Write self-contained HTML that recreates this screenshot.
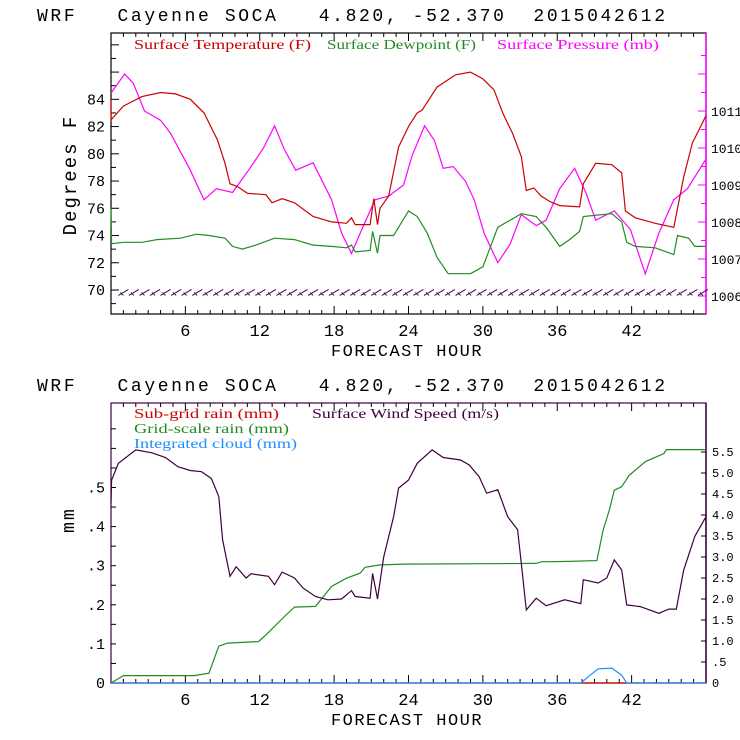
<!DOCTYPE html>
<html><head><meta charset="utf-8"><style>
body{margin:0;background:#fff}
svg{display:block}
text{font-family:"Liberation Mono",monospace}
.lg{font-family:"Liberation Serif",serif;font-size:14px}
</style></head><body>
<svg id="c" width="740" height="740" viewBox="0 0 740 740">
<text x="37" y="21" font-size="18" textLength="628" lengthAdjust="spacing" xml:space="preserve">WRF   Cayenne SOCA   4.820, -52.370  2015042612</text>
<text x="37" y="391" font-size="18" textLength="628" lengthAdjust="spacing" xml:space="preserve">WRF   Cayenne SOCA   4.820, -52.370  2015042612</text>
<g id="top"></g><g id="bot"></g>
</svg>
<script>
// ---- data ----
const tempHours=[0,0.01,1,2.5,4,5.2,6.4,7.5,8.6,9.2,9.6,10.2,11,12.5,13,13.8,14.8,16.3,17.8,19,19.4,19.7,20.9,21.2,21.5,21.7,22.4,23.2,24,24.7,25.1,26.3,27.8,29,30,30.9,31.6,32.4,33.1,33.5,34.1,34.7,35.4,36.2,37.8,38.1,39.1,40.4,41.2,41.5,42.3,43.9,45.4,46.2,46.9,48];
const tempF=[84,82.5,83.5,84.2,84.5,84.4,84,83,81,79.3,77.8,77.6,77.1,77,76.4,76.7,76.4,75.4,75,74.9,75.3,74.8,74.8,76.7,74.8,76,76.9,80.5,82,83,83.2,84.9,85.8,86,85.5,84.7,83,81.5,79.8,77.3,77.5,76.9,76.5,76.2,76.1,77.8,79.3,79.2,78.6,75.8,75.3,74.9,74.6,78.3,80.8,82.8];
const dewHours=[0,0.05,1,2.5,3.7,5.6,6.9,7.9,9.2,9.8,10.6,11.7,13.2,14.8,16.3,17.8,19,19.4,19.7,20.9,21.1,21.5,21.7,22.8,24,24.7,25.5,26.3,27.2,29,30,31.2,33.1,34.3,35.1,36.2,37,37.8,38.1,39.2,40.4,41.2,41.6,42.3,43.9,45.4,45.7,46.6,47.1,48];
const dewF=[76,73.4,73.5,73.5,73.7,73.8,74.1,74,73.8,73.2,73,73.3,73.8,73.7,73.3,73.2,73.1,73.3,72.8,72.9,74.3,72.7,74,74,75.8,75.4,74.2,72.4,71.2,71.2,71.7,74.6,75.6,75.4,74.6,73.2,73.7,74.3,75.4,75.5,75.6,75,73.5,73.2,73.1,72.6,74,73.8,73.2,73.2];
const presHours=[0,1.1,1.8,2.7,4,4.8,6.4,7.5,8.5,9.8,11.1,12.3,13.2,14,14.9,16.3,17.8,18.6,19.4,20.1,21.3,22.4,23.6,24.3,25.3,26.1,26.8,27.6,28.6,29.3,30.1,31.2,32.2,33.1,34.3,35.1,36.2,37.4,38.3,39.1,40.6,41.9,43.1,44.2,45.4,46.5,48];
const presMb=[1011.48,1012,1011.75,1011,1010.75,1010.4,1009.4,1008.6,1008.9,1008.8,1009.4,1010,1010.6,1009.95,1009.4,1009.6,1008.6,1007.7,1007.15,1007.7,1008.6,1008.7,1009,1009.8,1010.6,1010.2,1009.45,1009.5,1009.1,1008.6,1007.7,1006.9,1007.4,1008.2,1007.9,1008.05,1008.9,1009.45,1008.8,1008.05,1008.3,1007.8,1006.6,1007.7,1008.6,1008.9,1009.7];
const windHours=[0,0.05,0.6,2,3.3,4.4,5.4,6.4,7.3,8.1,8.7,9.0,9.6,10.1,10.9,11.3,12.7,13.2,13.8,14.8,15.5,16.5,17.5,18.6,19.4,19.7,20.9,21.1,21.5,22,22.8,23.2,24,24.7,25.9,26.8,28.2,28.9,29.7,30.3,31.2,32,32.8,33.1,33.5,34.3,35.1,36.6,37.9,38.1,39.3,40,40.6,41.2,41.6,42.7,44.2,45,45.6,46.2,47.1,48];
const windMs=[4.28,4.83,5.23,5.55,5.48,5.37,5.15,5.06,5.03,4.87,4.44,3.41,2.54,2.77,2.5,2.6,2.54,2.34,2.64,2.5,2.26,2.06,1.98,2,2.2,2.06,2.02,2.61,2,3,3.96,4.64,4.83,5.23,5.55,5.37,5.31,5.19,4.91,4.52,4.6,3.96,3.65,2.85,1.74,2.02,1.84,1.98,1.89,2.46,2.38,2.5,2.93,2.69,1.86,1.82,1.66,1.76,1.76,2.69,3.49,3.96];
const rainHours=[0,1,6.7,7.9,8.7,9.4,11.9,12.5,14,14.8,16.5,17.8,19,20.1,20.5,21.7,23.6,34.3,34.7,37,39.2,39.7,40.2,40.6,41.2,41.8,43.1,44.6,44.8,48];
const rainMm=[0,0.019,0.019,0.025,0.094,0.102,0.106,0.123,0.17,0.194,0.196,0.247,0.268,0.281,0.296,0.302,0.304,0.306,0.31,0.311,0.313,0.391,0.442,0.493,0.502,0.531,0.566,0.587,0.597,0.597];
const cloudHours=[0,37.9,38.7,39.3,40.4,41.2,41.6,48];
const cloudMm=[0,0,0.021,0.036,0.038,0.02,0,0];
const subHours=[0,48];
const subMm=[0,0];
const barbHours=[];for(let h=1;h<=48;h+=0.85)barbHours.push(h);
const xTicks=[6,12,18,24,30,36,42];
const tempTicks=[70,72,74,76,78,80,82,84];
const presTicks=[1006,1007,1008,1009,1010,1011];
const mmTicks=[0,0.1,0.2,0.3,0.4,0.5];
const mmLabels=["0",".1",".2",".3",".4",".5"];
const wsTicks=[0,0.5,1,1.5,2,2.5,3,3.5,4,4.5,5,5.5];

const NS="http://www.w3.org/2000/svg";
function el(p,t,a){const e=document.createElementNS(NS,t);for(const k in a)e.setAttribute(k,a[k]);p.appendChild(e);return e;}
const L=111,R=706;
const X=h=>L+(R-L)*h/48;
function line(g,xs,ys,fy,col,name){
  const d=xs.map((h,i)=>(i?"L":"M")+X(h).toFixed(1)+","+fy(ys[i]).toFixed(1)).join("");
  const p=el(g,"path",{d:d,fill:"none",stroke:col,"stroke-width":1.2});
  
  
}
function txt(g,x,y,s,attrs,name){const t=el(g,"text",Object.assign({x:x,y:y},attrs));t.textContent=s;
  
  return t;}
function frame(g,T,B,rc,fc){
  const r=el(g,"rect",{x:L,y:T,width:R-L,height:B-T,fill:"none",stroke:fc,"stroke-width":1.2});
  
  
  el(g,"line",{x1:R,y1:T,x2:R,y2:B,stroke:rc,"stroke-width":1.5});
  for(let h=1;h<48;h++){const x=X(h),len=h%6==0?8:4;
    el(g,"line",{x1:x,y1:B,x2:x,y2:B-len,stroke:"#000"});el(g,"line",{x1:x,y1:T,x2:x,y2:T+len,stroke:"#000"});}
  xTicks.forEach(h=>txt(g,X(h),B+22,String(h),{"font-size":17,"text-anchor":"middle"},"x-tick-label"));
  txt(g,407,B+42,"FORECAST HOUR",{"font-size":17,"text-anchor":"middle","letter-spacing":"1.5"},"x-axis-title");
}
// top
const gt=document.getElementById("top");
const T1=33,B1=314;
const yT=v=>290-(v-70)*13.62;
const yP=v=>296-(v-1006)*37;
frame(gt,T1,B1,"#ff00ff","#000");
for(let v=69;v<=88;v++){const y=yT(v);if(y<T1+2||y>B1-2)continue;el(gt,"line",{x1:L,y1:y,x2:L+(v%2==0?8:5),y2:y,stroke:"#000"});}
tempTicks.forEach(v=>txt(gt,105,yT(v)+5,String(v),{"font-size":15,"text-anchor":"end"},"y-tick-label"));
for(let v=1005.5;v<=1012.5;v+=0.5){const y=yP(v);if(y<T1+2||y>B1-2)continue;el(gt,"line",{x1:R,y1:y,x2:R-(v%1==0?8:5),y2:y,stroke:"#ff00ff"});}
presTicks.forEach(v=>txt(gt,711,yP(v)+5,String(v),{"font-size":13},"y2-tick-label"));
txt(gt,76,175,"Degrees F",{"font-size":19,"text-anchor":"middle","letter-spacing":"2",transform:"rotate(-90 76 175)"},"y-axis-title");
txt(gt,134,49,"Surface Temperature (F)",{class:"lg",fill:"#cc0000",textLength:177,lengthAdjust:"spacingAndGlyphs"},"legend-temperature");
txt(gt,327,49,"Surface Dewpoint (F)",{class:"lg",fill:"#228b22",textLength:149,lengthAdjust:"spacingAndGlyphs"},"legend-dewpoint");
txt(gt,497,49,"Surface Pressure (mb)",{class:"lg",fill:"#ff00ff",textLength:162,lengthAdjust:"spacingAndGlyphs"},"legend-pressure");
line(gt,presHours,presMb,yP,"#ff00ff","pressure-line");
line(gt,tempHours,tempF,yT,"#cc0000","temperature-line");
line(gt,dewHours,dewF,yT,"#228b22","dewpoint-line");
// wind barbs
let bd="";barbHours.forEach((h,i)=>{const x=X(h),y=yT(69.6);bd+="M"+(x-5).toFixed(1)+","+y+"l10,-6M"+x.toFixed(1)+","+y+"l-3,-3";});
const bp=el(gt,"path",{d:bd,stroke:"#3a0a4a","stroke-width":1,fill:"none"});


// bottom
const gb=document.getElementById("bot");
const T2=403,B2=683;
const yM=v=>B2-v*391;
const yW=v=>B2-v*42;
frame(gb,T2,B2,"#400040","#400040");
for(let v=0.05;v<0.7;v+=0.05){const y=yM(v);if(y<T2+2)continue;el(gb,"line",{x1:L,y1:y,x2:L+5,y2:y,stroke:"#000"});}
mmTicks.forEach((v,i)=>txt(gb,105,yM(v)+5,mmLabels[i],{"font-size":15,"text-anchor":"end"},"y-tick-label"));
wsTicks.forEach(v=>{el(gb,"line",{x1:R,y1:yW(v),x2:R-5,y2:yW(v),stroke:"#000"});
  txt(gb,712,yW(v)+4,v.toFixed(1).replace(".0",v==0?"":".0").replace(/^0\./,"."),{"font-size":12},"y2-tick-label");});
txt(gb,74,520,"mm",{"font-size":18,"text-anchor":"middle","letter-spacing":"2",transform:"rotate(-90 74 520)"},"y-axis-title");
txt(gb,134,418,"Sub-grid rain (mm)",{class:"lg",fill:"#cc0000",textLength:145,lengthAdjust:"spacingAndGlyphs"},"legend-subgrid-rain");
txt(gb,312,418,"Surface Wind Speed (m/s)",{class:"lg",fill:"#400040",textLength:187,lengthAdjust:"spacingAndGlyphs"},"legend-wind-speed");
txt(gb,134,433,"Grid-scale rain (mm)",{class:"lg",fill:"#228b22",textLength:155,lengthAdjust:"spacingAndGlyphs"},"legend-grid-rain");
txt(gb,134,448,"Integrated cloud (mm)",{class:"lg",fill:"#1e90ff",textLength:163,lengthAdjust:"spacingAndGlyphs"},"legend-cloud");
line(gb,rainHours,rainMm,yM,"#228b22","grid-rain-line");
line(gb,subHours,subMm,yM,"#cc0000","subgrid-rain-line");
line(gb,cloudHours,cloudMm,yM,"#1e90ff","cloud-line");
line(gb,windHours,windMs,yW,"#400040","wind-speed-line");
</script>
</body></html>
